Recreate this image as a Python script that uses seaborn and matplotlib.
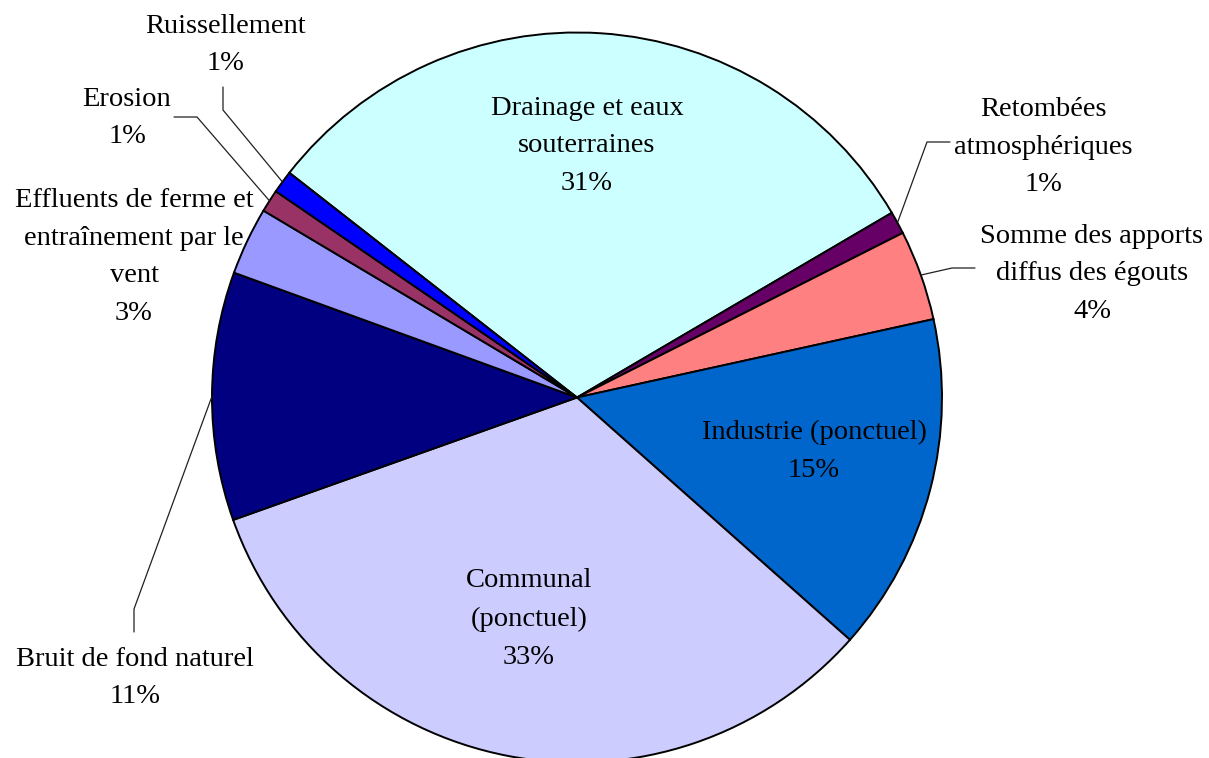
import matplotlib
matplotlib.use("Agg")
import matplotlib.pyplot as plt
import seaborn as sns
import numpy as np

# Sources of the load, in clockwise order starting at the upper-left
categories = [
    "Drainage et eaux\nsouterraines",
    "Retombées\natmosphériques",
    "Somme des apports\ndiffus des égouts",
    "Industrie (ponctuel)",
    "Communal\n(ponctuel)",
    "Bruit de fond naturel",
    "Effluents de ferme et\nentraînement par le\nvent",
    "Erosion",
    "Ruissellement",
]
shares = [31, 1, 4, 15, 33, 11, 3, 1, 1]
colors = ["#CCFFFF", "#660066", "#FF8080", "#0066CC", "#CCCCFF",
          "#000080", "#9999FF", "#993366", "#0000FF"]

W, H = 1209, 758
CENTER = (577, 397.5)   # pixel position, measured from the top-left
RADIUS = 365

sns.set_theme(style="white")
plt.rcParams["font.family"] = ["Liberation Serif", "DejaVu Serif"]


def px(x, y):
    """Convert top-left pixel coordinates to axes data coordinates."""
    return x, H - y


# Label anchors (top-left pixel coords) and leader-line elbows
label_pos = [
    (587, 146), (1043, 147), (1092, 274), (814, 451), (529, 619),
    (135, 678), (134, 257), (127, 118), (225, 45),
]
leader_elbows = [
    None,
    [(927, 142), (950, 142)],
    [(952, 268), (975, 268)],
    None,
    None,
    [(134, 609), (134, 632)],
    None,
    [(197, 117), (174, 117)],
    [(223, 110), (223, 87)],
]

fig = plt.figure(figsize=(W / 100, H / 100), dpi=100)
ax = fig.add_axes([0, 0, 1, 1])

wedges, _ = ax.pie(
    shares,
    colors=sns.color_palette(colors),
    startangle=142,
    counterclock=False,
    radius=RADIUS,
    center=px(*CENTER),
    wedgeprops=dict(edgecolor="black", linewidth=1.4, antialiased=True),
)
ax.set_xlim(0, W)
ax.set_ylim(0, H)
ax.set_aspect("equal")
ax.axis("off")

total = sum(shares)
cx, cy = px(*CENTER)
for wedge, name, value, pos, elbows in zip(wedges, categories, shares,
                                           label_pos, leader_elbows):
    if elbows is not None:
        mid = np.deg2rad((wedge.theta1 + wedge.theta2) / 2)
        start = (cx + RADIUS * np.cos(mid), cy + RADIUS * np.sin(mid))
        pts = [start] + [px(*p) for p in elbows]
        xs, ys = zip(*pts)
        ax.plot(xs, ys, color="#202020", linewidth=0.9, zorder=3)
    ax.text(*px(*pos), f"{name}\n{value / total * 100:.0f}%",
            ha="center", va="center", multialignment="center",
            fontsize=20.5, linespacing=1.68, color="black", zorder=4)

fig.savefig("out.png", dpi=100, facecolor="white")
